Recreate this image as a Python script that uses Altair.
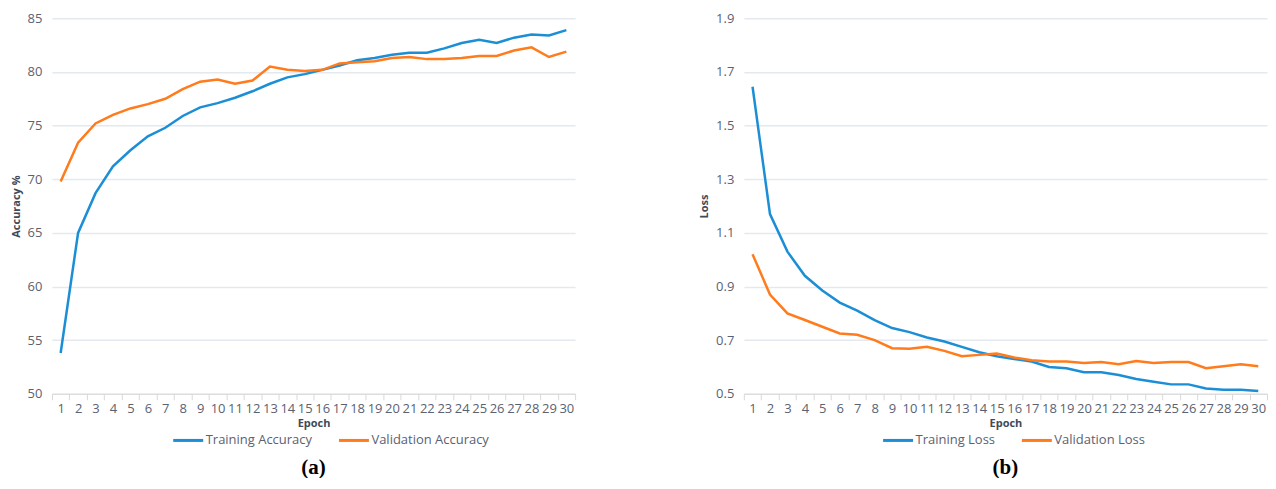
import altair as alt
import pandas as pd

epochs = list(range(1, 31))

train_acc = [53.8, 65.0, 68.7, 71.2, 72.7, 74.0, 74.8, 75.9, 76.7, 77.1,
             77.6, 78.2, 78.9, 79.5, 79.8, 80.2, 80.6, 81.1, 81.3, 81.6,
             81.8, 81.8, 82.2, 82.7, 83.0, 82.7, 83.2, 83.5, 83.4, 83.9]
val_acc = [69.8, 73.4, 75.2, 76.0, 76.6, 77.0, 77.5, 78.4, 79.1, 79.3,
           78.9, 79.2, 80.5, 80.2, 80.1, 80.2, 80.8, 80.9, 81.0, 81.3,
           81.4, 81.2, 81.2, 81.3, 81.5, 81.5, 82.0, 82.3, 81.4, 81.9]
train_loss = [1.645, 1.17, 1.03, 0.94, 0.885, 0.84, 0.81, 0.775, 0.745, 0.73,
              0.71, 0.695, 0.675, 0.655, 0.64, 0.63, 0.62, 0.60, 0.595, 0.58,
              0.58, 0.57, 0.555, 0.545, 0.535, 0.535, 0.52, 0.515, 0.515, 0.51]
val_loss = [1.02, 0.87, 0.80, 0.775, 0.75, 0.725, 0.72, 0.70, 0.67, 0.668,
            0.675, 0.66, 0.64, 0.645, 0.65, 0.635, 0.625, 0.62, 0.62, 0.615,
            0.618, 0.61, 0.622, 0.615, 0.618, 0.618, 0.595, 0.603, 0.61, 0.603]

acc_ticks = [50, 55, 60, 65, 70, 75, 80, 85]
loss_ticks = [0.5, 0.7, 0.9, 1.1, 1.3, 1.5, 1.7, 1.9]

BLUE = "#1B8ED6"
ORANGE = "#FF7B1C"
FONT = "Open Sans"

acc_df = pd.DataFrame({
    "epoch": epochs * 2,
    "value": train_acc + val_acc,
    "series": ["Training Accuracy"] * 30 + ["Validation Accuracy"] * 30,
})
loss_df = pd.DataFrame({
    "epoch": epochs * 2,
    "value": train_loss + val_loss,
    "series": ["Training Loss"] * 30 + ["Validation Loss"] * 30,
})

W, H = 524, 376


def panel(df, ytitle, ticks, fmt, names, label, legx):
    x = alt.X("epoch:O", title="Epoch", bandPosition=0.5,
              scale=alt.Scale(type="band", paddingInner=0, paddingOuter=0),
              axis=alt.Axis(labelAngle=0, tickBand="extent", tickSize=6,
                            tickColor="#D9D9D9", domainColor="#D9D9D9",
                            grid=False, labelFont=FONT, labelFontSize=13,
                            labelColor="#5A6272", labelPadding=3,
                            titleFont=FONT, titleFontSize=11, titleFontWeight="bold",
                            titleColor="#404A5A", titlePadding=2))
    y = alt.Y("value:Q", title=ytitle,
              scale=alt.Scale(domain=[ticks[0], ticks[-1]], nice=False, zero=False),
              axis=alt.Axis(values=ticks, format=fmt, grid=True, gridColor="#E4E9F0",
                            gridWidth=1.5, domain=False, ticks=False,
                            labelFont=FONT, labelFontSize=13, labelColor="#5A6272",
                            labelPadding=10, titleFont=FONT, titleFontSize=11,
                            titleFontWeight="bold", titleColor="#404A5A",
                            titlePadding=6))
    color = alt.Color("series:N",
                      scale=alt.Scale(domain=names, range=[BLUE, ORANGE]),
                      legend=alt.Legend(title=None, orient="none", direction="horizontal",
                                        legendX=legx, legendY=H + 30,
                                        symbolType="stroke", symbolSize=900,
                                        symbolStrokeWidth=3, labelOffset=1,
                                        labelFont=FONT, labelFontSize=13,
                                        labelColor="#5A6272", columnPadding=20))
    return alt.Chart(df).mark_line(strokeWidth=2.5).encode(
        x=x, y=y, color=color
    ).properties(
        width=W, height=H,
        title=alt.TitleParams(text=label, orient="bottom", anchor="middle",
                              font="Liberation Serif", fontSize=21,
                              fontWeight="bold", color="#000000", offset=9)
    )


left = panel(acc_df, "Accuracy %", acc_ticks, "d",
             ["Training Accuracy", "Validation Accuracy"], "(a)", 120)
right = panel(loss_df, "Loss", loss_ticks, ".1f",
              ["Training Loss", "Validation Loss"], "(b)", 138)

chart = alt.hconcat(left, right, spacing=122).resolve_scale(
    color="independent"
).properties(
    padding={"left": 2, "top": 4, "right": 0, "bottom": 0}
).configure_view(stroke=None)

chart.save("out.html", embed_options={"renderer": "svg", "actions": False})
